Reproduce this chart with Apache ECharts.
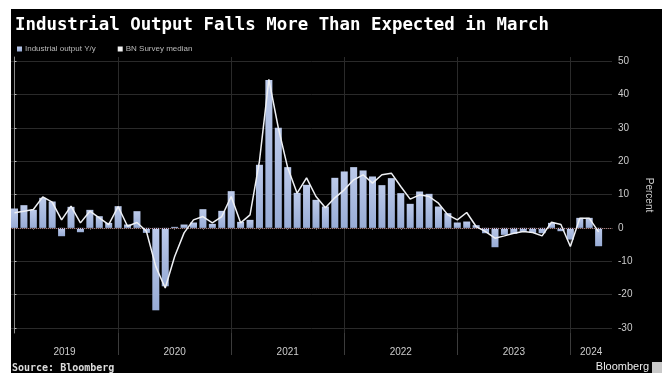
<!DOCTYPE html>
<html>
<head>
<meta charset="utf-8">
<script src="https://cdn.jsdelivr.net/npm/echarts@6/dist/echarts.min.js"></script>
<style>
  html, body { margin: 0; padding: 0; background: #fff; }
  #chart { position: absolute; left: 11px; top: 9px; width: 651px; height: 364px; }
</style>
</head>
<body>
<div id="chart"></div>
<script>
// Monthly readings, Jan 2019 .. Mar 2024 (index 0 = Jan 2019)
const industrialOutput = [
  5.8, 6.8, 5.4, 9.0, 7.9, -2.5, 6.3, -1.3, 5.4, 3.5, 1.5, 6.5,
  1.0, 5.0, -1.5, -24.7, -17.5, 0.3, 1.0, 1.6, 5.6, 1.2, 5.1, 11.0,
  1.8, 2.4, 18.9, 44.3, 30.0, 18.2, 10.5, 12.9, 8.4, 6.4, 15.0, 16.9,
  18.2, 17.2, 15.4, 12.8, 14.9, 10.4, 7.2, 10.9, 10.2, 6.4, 4.4, 1.6,
  1.9, 0.8, -1.6, -5.8, -2.1, -1.8, -1.2, -1.5, -1.6, 1.5, -1.0, -3.5,
  3.0, 3.0, -5.5
];
const surveyMedian = [
  4.5, 5.0, 5.5, 9.3, 7.7, 2.4, 6.5, 1.5, 5.0, 3.0, 1.0, 6.4,
  0.5, 1.6, -1.0, -11.6, -18.0, -8.6, -1.5, 2.4, 3.4, 1.5, 3.4, 9.4,
  1.5, 3.9, 20.0, 44.5, 30.0, 18.0, 10.4, 15.0, 9.4, 6.0, 9.0, 11.4,
  14.4, 15.9, 13.4, 15.9, 16.4, 12.4, 8.6, 9.9, 9.4, 7.4, 3.9, 2.4,
  4.6, 0.4, -1.1, -3.1, -2.4, -1.6, -1.1, -1.4, -2.4, 1.7, 1.0, -5.6,
  2.9, 2.9, -1.2
];
const yearLabels = ['2019', '2020', '2021', '2022', '2023', '2024'];
const valueTicks = [-30, -20, -10, 0, 10, 20, 30, 40, 50];
const seriesNames = ['Industrial output Y/y', 'BN Survey median'];

// x is the month index; each reading sits at the end of its month
const xMin = -0.37, xMax = 63.42;
const yearEnds = yearLabels.slice(0, -1).map((_, i) => 12 * i + 11);
const yearCentres = yearLabels.map((_, i) =>
  (Math.max(12 * i - 1, xMin) + Math.min(12 * i + 11, xMax)) / 2);
const quarterTicks = [];
for (let i = 0; i < yearLabels.length; i++) {
  [2, 5, 8].forEach(q => { const v = 12 * i + q; if (v < xMax) quarterTicks.push(v); });
}

const labelFont = 'Liberation Sans';
const chart = echarts.init(document.getElementById('chart'));
chart.setOption({
  backgroundColor: '#000',
  animation: false,
  title: {
    text: 'Industrial Output Falls More Than Expected in March',
    left: -1, top: 3,
    textStyle: { color: '#fff', fontFamily: 'DejaVu Sans Mono', fontWeight: 'bold', fontSize: 17.4 }
  },
  legend: {
    left: 1, top: 31,
    icon: 'rect', itemWidth: 5, itemHeight: 5, itemGap: 22,
    textStyle: { color: '#bbb', fontSize: 8, fontFamily: labelFont, padding: [0, 0, 0, -2] },
    data: seriesNames
  },
  grid: { left: 0, right: 45, top: 48, bottom: 40, containLabel: false },
  xAxis: [
    {
      type: 'value', position: 'bottom', min: xMin, max: xMax,
      axisLine: { show: true, lineStyle: { color: '#8a8a8a', width: 1 } },
      axisTick: { show: true, customValues: quarterTicks, length: 2, lineStyle: { color: '#777' } },
      axisLabel: {
        customValues: yearCentres, color: '#ccc', fontSize: 10, fontFamily: labelFont, margin: 14,
        formatter: v => yearLabels[yearCentres.findIndex(c => Math.abs(c - v) < 0.01)]
      },
      splitLine: { show: false }
    },
    {
      type: 'value', position: 'bottom', min: xMin, max: xMax,
      axisLine: { show: false },
      axisTick: { show: true, customValues: yearEnds, length: 22, lineStyle: { color: '#3c3c3c' } },
      axisLabel: { show: false },
      splitLine: { show: true, lineStyle: { color: '#2a2a2a', width: 1 } }
    }
  ],
  yAxis: {
    type: 'value', position: 'right', min: -31.5, max: 51.2,
    name: 'Percent', nameLocation: 'middle', nameRotate: -90, nameGap: 32,
    nameTextStyle: { color: '#ccc', fontSize: 10, fontFamily: labelFont },
    axisLine: { show: true, lineStyle: { color: '#8a8a8a' } },
    axisTick: { show: true, customValues: valueTicks, length: 2, lineStyle: { color: '#bbb' } },
    axisLabel: { customValues: valueTicks, color: '#ccc', fontSize: 10, fontFamily: labelFont, margin: 6 },
    splitLine: { show: true, lineStyle: { color: '#2a2a2a', width: 1 } }
  },
  series: [
    {
      name: seriesNames[0], type: 'bar', xAxisIndex: 0,
      barWidth: 7,
      itemStyle: {
        color: new echarts.graphic.LinearGradient(0, 0, 0, 1, [
          { offset: 0, color: '#bccaea' }, { offset: 1, color: '#98acd6' }
        ])
      },
      markLine: {
        silent: true, symbol: 'none', label: { show: false },
        lineStyle: { color: '#4a1c1c', type: 'dotted', width: 1 },
        data: [{ yAxis: 0 }]
      },
      data: industrialOutput.map((v, i) => [i, v])
    },
    {
      name: seriesNames[1], type: 'line', xAxisIndex: 0,
      showSymbol: false, z: 5,
      itemStyle: { color: '#f2f2f2' },
      lineStyle: { color: '#eef0f4', width: 1.5 },
      data: surveyMedian.map((v, i) => [i, v])
    }
  ],
  graphic: [
    {
      type: 'text', left: 1, top: 354,
      style: { text: 'Source: Bloomberg', fill: '#ddd', font: 'bold 10px "DejaVu Sans Mono"' }
    },
    {
      type: 'text', right: 13, top: 352,
      style: { text: 'Bloomberg', fill: '#eee', font: '11px "Liberation Sans"' }
    },
    {
      type: 'rect', right: 0, top: 353,
      shape: { width: 10, height: 11 },
      style: { fill: '#c8c8c8' }
    }
  ]
});
</script>
</body>
</html>
